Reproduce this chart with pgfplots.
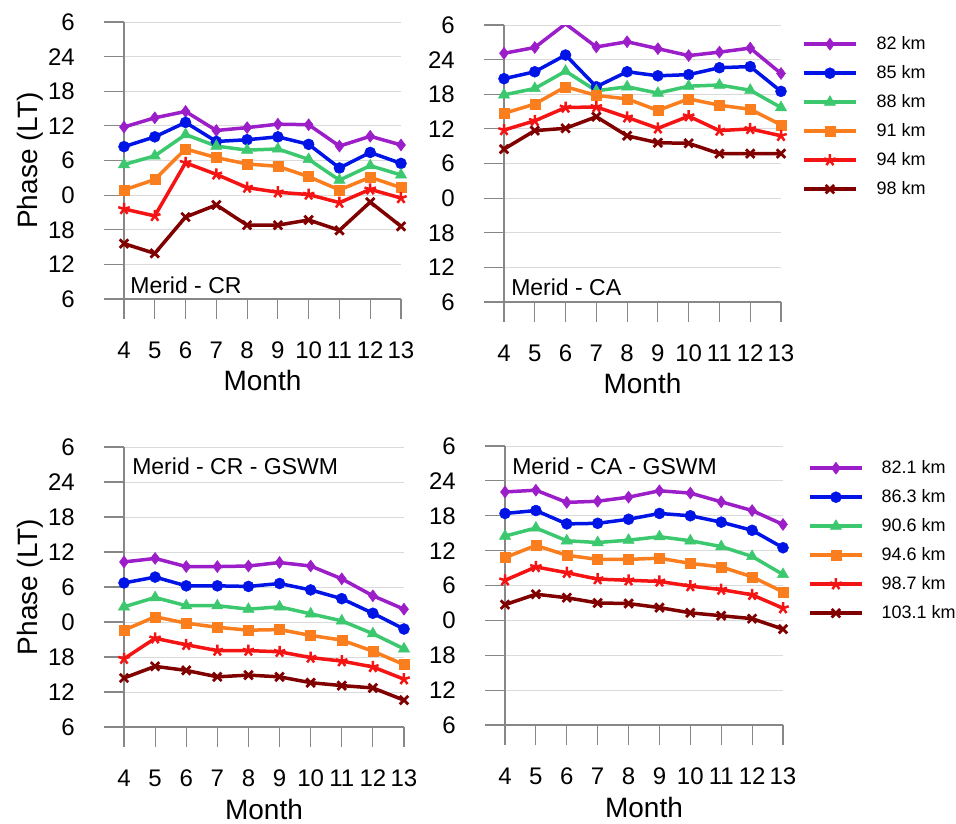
\documentclass[border=0pt]{standalone}
\usepackage{pgfplots}
\pgfplotsset{compat=1.18}
\usepackage{fontspec}
\setmainfont{Liberation Sans}
\definecolor{cpur}{RGB}{155,30,200}
\definecolor{cblu}{RGB}{0,20,230}
\definecolor{cgrn}{RGB}{60,200,110}
\definecolor{corg}{RGB}{250,125,30}
\definecolor{cred}{RGB}{245,20,20}
\definecolor{cdrd}{RGB}{128,0,0}
\definecolor{axgray}{RGB}{135,135,135}
\definecolor{grgray}{RGB}{218,218,218}
\pgfplotsset{
  panel/.style={
    scale only axis, anchor=south west,
    xmin=4, xmax=13, ymin=6, ymax=54,
    xtick={4,...,13}, xticklabels={4,5,6,7,8,9,10,11,12,13},
    ytick={6,12,...,54}, yticklabels={6,12,18,0,6,12,18,24,6},
    /pgf/number format/assume math mode=true,
    axis x line=bottom, axis y line=left,
    axis line style={draw=axgray, line width=1.2pt, -},
    tick align=outside, major tick length=20pt,
    tick style={draw=axgray, line width=1.2pt},
    ymajorgrids, major grid style={draw=grgray, line width=1pt},
    tick label style={font=\fontsize{24}{28}\selectfont},
    xticklabel style={inner sep=0pt, yshift=-23pt},
    yticklabel style={inner sep=0pt, xshift=-29pt},
    every axis y label/.style={at={(axis description cs:-0.339,0.5)}, rotate=90, anchor=center, font=\fontsize{28}{32}\selectfont},
    every axis x label/.style={at={(axis description cs:0.5,-0.295)}, anchor=center, inner sep=0pt, font=\fontsize{28}{32}\selectfont},
    xlabel={Month},
    legend cell align=left,
    legend style={draw=none, fill=none, anchor=north west, inner sep=0pt,
      font=\fontsize{18}{21}\selectfont,
      nodes={inner sep=0pt, text height=13pt, text depth=2pt},
      row sep=14pt},
    legend image post style={line width=3.5pt},
    legend image code/.code={\draw[mark repeat=2,mark phase=2,##1] plot coordinates {(0pt,0pt) (26pt,0pt) (52pt,0pt)};},
  },
  s1/.style={color=cpur, line width=3.5pt, mark=diamond*, mark size=6pt, mark options={solid, line width=0.5pt}},
  s2/.style={color=cblu, line width=3.5pt, mark=*, mark size=5.5pt, mark options={solid, line width=0.5pt}},
  s3/.style={color=cgrn, line width=3.5pt, mark=triangle*, mark size=6.5pt, mark options={solid, line width=0.5pt}},
  s4/.style={color=corg, line width=3.5pt, mark=square*, mark size=5pt, mark options={solid, line width=0.5pt}},
  s5/.style={color=cred, line width=3.5pt, mark=star, mark size=6pt, mark options={solid, line width=2.5pt}},
  s6/.style={color=cdrd, line width=3.5pt, mark=x, mark size=6pt, mark options={solid, line width=2.8pt}},
}
\begin{document}
\begin{tikzpicture}[x=1pt,y=1pt]
\useasboundingbox (0,0) rectangle (956,-823);
% ---------------- Panel 1: Merid - CR
\begin{axis}[panel, at={(124pt,-299pt)}, width=277pt, height=277pt, ylabel={Phase (LT)}]
\addplot[s1] coordinates {(4,35.8) (5,37.4) (6,38.5) (7,35.2) (8,35.7) (9,36.3) (10,36.2) (11,32.5) (12,34.2) (13,32.7)};
\addplot[s2] coordinates {(4,32.4) (5,34.1) (6,36.6) (7,33.3) (8,33.6) (9,34.1) (10,32.8) (11,28.7) (12,31.4) (13,29.5)};
\addplot[s3] coordinates {(4,29.3) (5,30.8) (6,34.5) (7,32.5) (8,31.8) (9,32.0) (10,30.2) (11,26.6) (12,29.1) (13,27.5)};
\addplot[s4] coordinates {(4,24.9) (5,26.7) (6,32.0) (7,30.5) (8,29.4) (9,29.0) (10,27.2) (11,24.9) (12,27.1) (13,25.3)};
\addplot[s5] coordinates {(4,21.6) (5,20.4) (6,29.6) (7,27.6) (8,25.3) (9,24.5) (10,24.1) (11,22.7) (12,25.0) (13,23.5)};
\addplot[s6] coordinates {(4,15.6) (5,13.9) (6,20.2) (7,22.3) (8,18.8) (9,18.8) (10,19.7) (11,17.9) (12,22.8) (13,18.6)};
\node[anchor=west, inner sep=0pt, font=\fontsize{23}{27}\selectfont] at (axis cs:4.2,8.43) {Merid - CR};
\end{axis}
% ---------------- Panel 2: Merid - CA
\begin{axis}[panel, at={(504pt,-302pt)}, width=277pt, height=277pt,
  legend style={at={(1,1)}, xshift=21pt, yshift=-11.5pt, column sep=19pt}]
\addplot[s1] coordinates {(4,49.1) (5,50.1) (6,54.2) (7,50.2) (8,51.1) (9,49.9) (10,48.7) (11,49.3) (12,50.0) (13,45.6)};
\addplot[s2] coordinates {(4,44.7) (5,45.9) (6,48.8) (7,43.3) (8,45.9) (9,45.2) (10,45.4) (11,46.6) (12,46.8) (13,42.5)};
\addplot[s3] coordinates {(4,41.9) (5,43.0) (6,46.0) (7,42.6) (8,43.3) (9,42.2) (10,43.4) (11,43.6) (12,42.7) (13,39.7)};
\addplot[s4] coordinates {(4,38.7) (5,40.3) (6,43.3) (7,41.8) (8,41.2) (9,39.2) (10,41.2) (11,40.1) (12,39.4) (13,36.7)};
\addplot[s5] coordinates {(4,35.8) (5,37.4) (6,39.7) (7,39.8) (8,38.0) (9,36.1) (10,38.2) (11,35.7) (12,36.0) (13,34.8)};
\addplot[s6] coordinates {(4,32.5) (5,35.7) (6,36.1) (7,38.1) (8,34.8) (9,33.6) (10,33.5) (11,31.7) (12,31.7) (13,31.7)};
\legend{82 km,85 km,88 km,91 km,94 km,98 km}
\node[anchor=west, inner sep=0pt, font=\fontsize{23}{27}\selectfont] at (axis cs:4.23,8.6) {Merid - CA};
\end{axis}
% ---------------- Panel 3: Merid - CR - GSWM
\begin{axis}[panel, at={(124pt,-727pt)}, width=280pt, height=280pt, ylabel={Phase (LT)},
  every axis y label/.style={at={(axis description cs:-0.336,0.5)}, rotate=90, anchor=center, font=\fontsize{28}{32}\selectfont}]
\addplot[s1] coordinates {(4,34.3) (5,34.9) (6,33.5) (7,33.5) (8,33.6) (9,34.2) (10,33.6) (11,31.4) (12,28.5) (13,26.2)};
\addplot[s2] coordinates {(4,30.7) (5,31.7) (6,30.2) (7,30.2) (8,30.1) (9,30.6) (10,29.5) (11,28.0) (12,25.5) (13,22.8)};
\addplot[s3] coordinates {(4,26.6) (5,28.2) (6,26.8) (7,26.8) (8,26.2) (9,26.6) (10,25.4) (11,24.2) (12,22.0) (13,19.4)};
\addplot[s4] coordinates {(4,22.6) (5,24.9) (6,23.8) (7,23.1) (8,22.6) (9,22.7) (10,21.7) (11,20.9) (12,19.0) (13,16.7)};
\addplot[s5] coordinates {(4,17.7) (5,21.2) (6,20.1) (7,19.1) (8,19.1) (9,18.9) (10,17.9) (11,17.3) (12,16.3) (13,14.2)};
\addplot[s6] coordinates {(4,14.4) (5,16.4) (6,15.7) (7,14.6) (8,14.9) (9,14.6) (10,13.6) (11,13.1) (12,12.7) (13,10.6)};
\node[anchor=west, inner sep=0pt, font=\fontsize{23}{27}\selectfont] at (axis cs:4.26,50.74) {Merid - CR - GSWM};
\end{axis}
% ---------------- Panel 4: Merid - CA - GSWM
\begin{axis}[panel, at={(505pt,-725pt)}, width=278pt, height=279pt,
  legend style={at={(1,1)}, xshift=25pt, yshift=-14.5pt, column sep=18pt}]
\addplot[s1] coordinates {(4,46.1) (5,46.4) (6,44.3) (7,44.5) (8,45.2) (9,46.3) (10,45.9) (11,44.4) (12,42.9) (13,40.5)};
\addplot[s2] coordinates {(4,42.4) (5,42.9) (6,40.6) (7,40.7) (8,41.4) (9,42.4) (10,42.0) (11,40.9) (12,39.5) (13,36.5)};
\addplot[s3] coordinates {(4,38.5) (5,39.9) (6,37.7) (7,37.4) (8,37.8) (9,38.4) (10,37.7) (11,36.7) (12,35.0) (13,31.9)};
\addplot[s4] coordinates {(4,34.8) (5,36.9) (6,35.2) (7,34.5) (8,34.5) (9,34.7) (10,33.8) (11,33.2) (12,31.5) (13,28.9)};
\addplot[s5] coordinates {(4,30.9) (5,33.2) (6,32.2) (7,31.1) (8,30.9) (9,30.7) (10,29.9) (11,29.3) (12,28.4) (13,26.1)};
\addplot[s6] coordinates {(4,26.7) (5,28.5) (6,27.9) (7,27.0) (8,26.9) (9,26.2) (10,25.3) (11,24.8) (12,24.3) (13,22.5)};
\legend{82.1 km,86.3 km,90.6 km,94.6 km,98.7 km,103.1 km}
\node[anchor=west, inner sep=0pt, font=\fontsize{23}{27}\selectfont] at (axis cs:4.23,50.56) {Merid - CA - GSWM};
\end{axis}
\end{tikzpicture}
\end{document}
